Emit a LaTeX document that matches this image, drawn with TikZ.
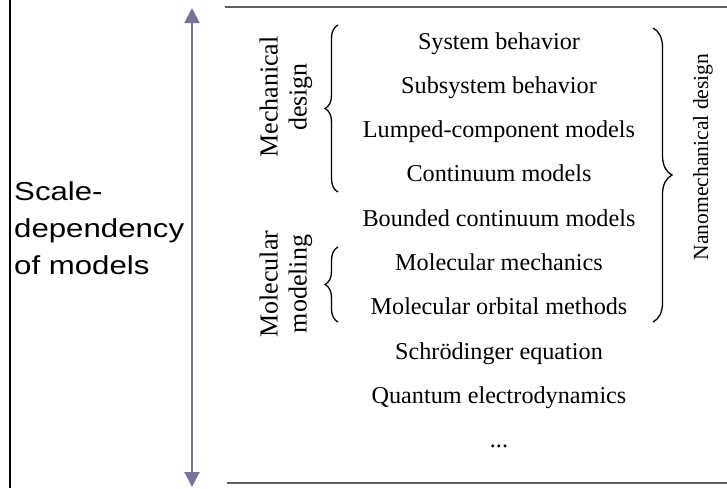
\documentclass[tikz,border=0pt]{standalone}
\usepackage{fontspec}
\usepackage{tikz}
\usetikzlibrary{arrows.meta,decorations.pathreplacing}
\setmainfont{Liberation Serif}
\newfontfamily\scalefont[FakeStretch=1.2]{Liberation Sans}
\definecolor{scalearrow}{HTML}{7D7098}
\definecolor{rulegray}{HTML}{606060}

\begin{document}
\begin{tikzpicture}[x=1pt,y=-1pt,
    item/.style={anchor=base,inner sep=0pt,font=\fontsize{24.2}{28}\selectfont},
    sidelabel/.style={rotate=90,align=center,inner sep=0pt,font=\fontsize{26}{29}\selectfont},
    bracket/.style={decorate,line width=1.3pt},
    rule/.style={rulegray,line width=2pt}]
        \useasboundingbox (0,0) rectangle (727,488);
        \matrix[row sep={44.3pt,between origins}, matrix anchor=S1.base] (M) at (499,49)
        {
          \node[item](S1) {System behavior};\\
          \node[item](S2) {Subsystem behavior};\\
          \node[item](S3) {Lumped-component models};\\
          \node[item](S4) {Continuum models};\\
          \node[item](S5) {Bounded continuum models};\\
          \node[item](S6) {Molecular mechanics};\\
          \node[item](S7) {Molecular orbital methods};\\
          \node[item](S8) {Schrödinger equation};\\
          \node[item](S9) {Quantum electrodynamics};\\
          \node[item](S10) {...};\\
        };
      \draw[rule] (225,7) -- (727,7);
      \draw[rule] (227,483) -- (727,483);
      \draw[line width=2pt] (10,0) -- (10,488);
      \coordinate (top) at (192,8);
      \coordinate (bot) at (192,487);
      \draw[scalearrow, line width=2pt, {Triangle[width=15pt,length=15pt]}-{Triangle[width=15pt,length=15pt]}] (bot) -- (top);
      \node[anchor=base west, align=left, inner sep=0pt, font=\scalefont\fontsize{26}{37}\selectfont] (scale) at (14,274) {Scale-\\dependency\\of models};
      \draw[bracket, decoration={brace,amplitude=13pt}] (338,192) -- (338,25);
      \draw[bracket, decoration={brace,amplitude=13pt}] (338,322) -- (338,247);
      \draw[bracket, decoration={brace,amplitude=19pt}] (653,28) -- (653,322);
      \node[sidelabel] (mech) at (286,97) {Mechanical\\design};
      \node[sidelabel] (mol) at (286,284) {Molecular\\modeling};
      \node[sidelabel, font=\fontsize{21.6}{26}\selectfont] (nano) at (703,157) {Nanomechanical design};
      \end{tikzpicture}
\end{document}
